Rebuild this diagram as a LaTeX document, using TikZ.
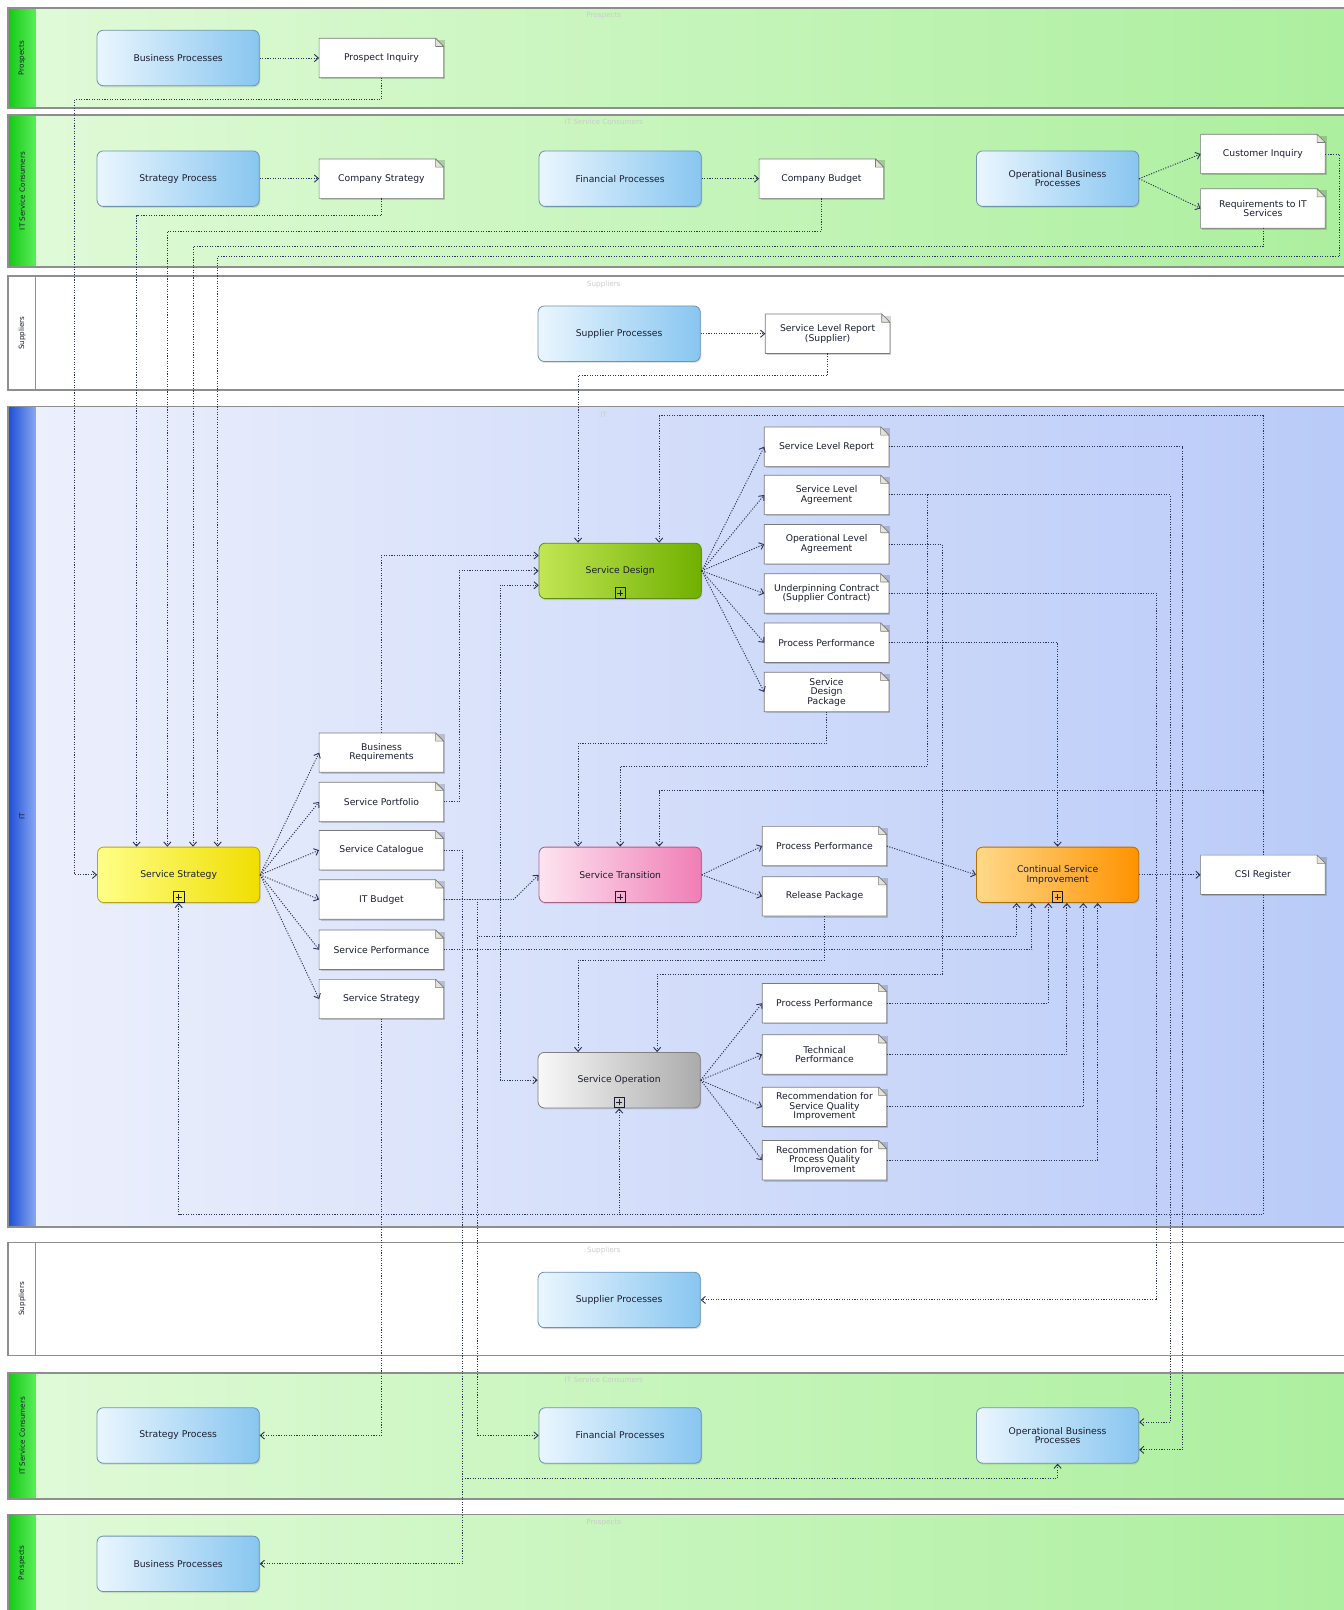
\documentclass[tikz,border=0pt]{standalone}
\usepackage{fontspec}
\setmainfont{DejaVu Sans}
\usetikzlibrary{arrows.meta,calc,shadows}
\pgfdeclarelayer{lanes}
\pgfdeclarelayer{docs}
\pgfsetlayers{lanes,docs,main}

\definecolor{flowc}{HTML}{2A3558}
\definecolor{laneline}{HTML}{8E8E8E}
\definecolor{greenA}{HTML}{E0FAD8}
\definecolor{greenB}{HTML}{ABEF9D}
\definecolor{greenbarA}{HTML}{16C816}
\definecolor{greenbarB}{HTML}{5AEE5A}
\definecolor{itA}{HTML}{EDF0FC}
\definecolor{itB}{HTML}{B8CAF8}
\definecolor{bluebarA}{HTML}{1C4FD6}
\definecolor{bluebarB}{HTML}{8AA8F2}
\definecolor{procA}{HTML}{EAF6FE}
\definecolor{procB}{HTML}{88C6F0}
\definecolor{procline}{HTML}{6F93B5}
\definecolor{docline}{HTML}{7A7A7A}
\definecolor{foldc}{HTML}{E4E4D6}
\definecolor{textc}{HTML}{1A1E30}
\definecolor{yelA}{HTML}{FFFF88}
\definecolor{yelB}{HTML}{F0DE00}
\definecolor{yelL}{HTML}{B8A51A}
\definecolor{grnA}{HTML}{C2E654}
\definecolor{grnB}{HTML}{70B000}
\definecolor{grnL}{HTML}{5F8F10}
\definecolor{pnkA}{HTML}{FDE4F0}
\definecolor{pnkB}{HTML}{F07EB6}
\definecolor{pnkL}{HTML}{B25C86}
\definecolor{gryA}{HTML}{F8F8F8}
\definecolor{gryB}{HTML}{ABABAB}
\definecolor{gryL}{HTML}{808080}
\definecolor{orgA}{HTML}{FFD98A}
\definecolor{orgB}{HTML}{FF9200}
\definecolor{orgL}{HTML}{B86E00}

\tikzset{
  flow/.style={draw=flowc, line width=0.9pt, dash pattern=on 1.1pt off 1.4pt,
    -{Straight Barb[length=4pt,width=7pt]}},
  lanebox/.style={draw=laneline, line width=1.4pt},
  lanetitle/.style={font=\fontsize{7}{8}\selectfont, text=black!20},
  lanehead/.style={font=\fontsize{7}{8}\selectfont, text=textc, rotate=90},
  proc/.style={rectangle, rounded corners=6pt, draw=procline, line width=0.8pt,
    left color=procA, right color=procB, minimum width=158pt, minimum height=54pt,
    align=center, inner sep=2pt, font=\fontsize{9}{9.3}\selectfont, text=textc,
    drop shadow={opacity=0.22, shadow xshift=1pt, shadow yshift=-1.5pt}},
  phase/.style={proc, left color=#1A, right color=#1B, draw=#1L},
  doc/.style={rectangle, minimum width=121pt, minimum height=38pt, inner sep=1pt,
    align=center, font=\fontsize{9}{9.3}\selectfont, text=textc},
}

\begin{document}
\begin{tikzpicture}[x=1pt,y=-1pt]
\useasboundingbox (0,0) rectangle (1308,1568);

% ---------- swimlanes ----------
\begin{pgfonlayer}{lanes}
\fill[white] (0,0) rectangle (1308,1568);
\foreach \ya/\yb in {8/105, 112/260, 1337/1460, 1475/1590} {
  \shade[left color=greenA, right color=greenB] (8,\ya) rectangle (1330,\yb);
  \shade[left color=greenbarA, right color=greenbarB] (8,\ya) rectangle (35,\yb);
  \draw[lanebox] (1330,\ya) -- (8,\ya) -- (8,\yb) -- (1330,\yb);
}
\foreach \ya/\yb in {269/380, 1210/1320} {
  \draw[lanebox] (1330,\ya) -- (8,\ya) -- (8,\yb) -- (1330,\yb);
  \draw[draw=laneline, line width=1pt] (35,\ya) -- (35,\yb);
}
\shade[left color=itA, right color=itB] (8,396) rectangle (1330,1195);
\shade[left color=bluebarA, right color=bluebarB] (8,396) rectangle (35,1195);
\draw[lanebox] (1330,396) -- (8,396) -- (8,1195) -- (1330,1195);

\node[lanehead] (hp1) at (21.5,56.5) {Prospects};
\node[lanehead] (hc1) at (21.5,186) {IT Service Consumers};
\node[lanehead] (hs1) at (21.5,324.5) {Suppliers};
\node[lanehead] (hit) at (21.5,795) {IT};
\node[lanehead] (hs2) at (21.5,1265) {Suppliers};
\node[lanehead] (hc2) at (21.5,1398.5) {IT Service Consumers};
\node[lanehead] (hp2) at (21.5,1522) {Prospects};

\node[lanetitle] (tp1) at (588,15) {Prospects};
\node[lanetitle] (tc1) at (588,119) {IT Service Consumers};
\node[lanetitle] (ts1) at (588,277) {Suppliers};
\node[lanetitle] (tit) at (588,404) {IT};
\node[lanetitle] (ts2) at (588,1218) {Suppliers};
\node[lanetitle] (tc2) at (588,1344) {IT Service Consumers};
\node[lanetitle] (tp2) at (588,1483) {Prospects};
\end{pgfonlayer}

% ---------- nodes ----------
\node[proc] (bp1) at (173.5,56.5) {Business Processes};
\node[doc] (pinq) at (371.5,56.5) {Prospect Inquiry};

\node[proc] (sp1) at (173.5,174) {Strategy Process};
\node[doc] (cstr) at (371.5,174) {Company Strategy};
\node[proc] (fp1) at (604,174) {Financial Processes};
\node[doc] (cbud) at (800,174) {Company Budget};
\node[proc] (obp1) at (1030,174) {Operational Business\\Processes};
\node[doc] (cinq) at (1230,150) {Customer Inquiry};
\node[doc] (rits) at (1230,203) {Requirements to IT\\Services};

\node[proc] (sup1) at (603,325) {Supplier Processes};
\node[doc] (slrs) at (806,325) {Service Level Report\\(Supplier)};

\node[phase=yel] (ss) at (174,852) {Service Strategy};
\node[doc] (breq) at (371.5,733) {Business\\Requirements};
\node[doc] (sport) at (371.5,781) {Service Portfolio};
\node[doc] (scat) at (371.5,828) {Service Catalogue};
\node[doc] (itb) at (371.5,876) {IT Budget};
\node[doc] (sperf) at (371.5,925) {Service Performance};
\node[doc] (ssdoc) at (371.5,973) {Service Strategy};

\node[phase=grn] (sd) at (604,556) {Service Design};
\node[doc] (slr) at (805,435) {Service Level Report};
\node[doc] (sla) at (805,482) {Service Level\\Agreement};
\node[doc] (ola) at (805,530) {Operational Level\\Agreement};
\node[doc] (uc) at (805,578) {Underpinning Contract\\(Supplier Contract)};
\node[doc] (ppd) at (805,626) {Process Performance};
\node[doc] (sdp) at (805,674) {Service\\Design\\Package};

\node[phase=pnk] (st) at (604,852) {Service Transition};
\node[doc] (ppt) at (803,824) {Process Performance};
\node[doc] (relp) at (803,873) {Release Package};

\node[phase=org] (csi) at (1030,852) {Continual Service\\Improvement};
\node[doc] (csir) at (1230,852) {CSI Register};

\node[phase=gry] (so) at (603,1052) {Service Operation};
\node[doc] (ppo) at (803,977) {Process Performance};
\node[doc] (tperf) at (803,1027) {Technical\\Performance};
\node[doc] (rsq) at (803,1078) {Recommendation for\\Service Quality\\Improvement};
\node[doc] (rpq) at (803,1130) {Recommendation for\\Process Quality\\Improvement};

\node[proc] (sup2) at (603,1266) {Supplier Processes};
\node[proc] (sp2) at (173.5,1398) {Strategy Process};
\node[proc] (fp2) at (604,1398) {Financial Processes};
\node[proc] (obp2) at (1030,1398) {Operational Business\\Processes};
\node[proc] (bp2) at (173.5,1523) {Business Processes};

% ---------- document outlines with folded corner ----------
\begin{pgfonlayer}{docs}
\foreach \nm in {pinq,cstr,cbud,cinq,rits,slrs,breq,sport,scat,itb,sperf,ssdoc,
                 slr,sla,ola,uc,ppd,sdp,ppt,relp,csir,ppo,tperf,rsq,rpq} {
  \fill[black, opacity=0.16] ($(\nm.south west)+(1.5pt,-1.5pt)$) rectangle ($(\nm.north east)+(1.5pt,-1.5pt)$);
  \draw[docline, line width=0.7pt, fill=white, line join=round]
    (\nm.south west) -- (\nm.north west) -- ($(\nm.north east)+(-8pt,0pt)$)
    -- ($(\nm.north east)+(0pt,-8pt)$) -- (\nm.south east) -- cycle;
  \draw[docline, line width=0.6pt, fill=foldc, line join=round]
    ($(\nm.north east)+(-8pt,0pt)$) -- ($(\nm.north east)+(-8pt,-8pt)$)
    -- ($(\nm.north east)+(0pt,-8pt)$) -- cycle;
}
\end{pgfonlayer}

% ---------- sub-process markers ----------
\foreach \nm in {ss,sd,st,so,csi} {
  \draw[textc, line width=0.5pt] ($(\nm.south)+(-5pt,1pt)$) rectangle ($(\nm.south)+(5pt,11pt)$);
  \draw[textc, line width=0.5pt] ($(\nm.south)+(-3pt,6pt)$) -- ($(\nm.south)+(3pt,6pt)$)
    ($(\nm.south)+(0pt,3pt)$) -- ($(\nm.south)+(0pt,9pt)$);
}

% ---------- prospects and consumers feed the strategy ----------
\draw[flow] (bp1.east) -- (pinq.west);
\draw[flow] (pinq.south) |- (73,97) |- (ss.west);
\draw[flow] (sp1.east) -- (cstr.west);
\draw[flow] (cstr.south) |- (133,210) -- ($(ss.north)+(-41,0)$);
\draw[flow] (fp1.east) -- (cbud.west);
\draw[flow] (cbud.south) |- (163,225) -- ($(ss.north)+(-11,0)$);
\draw[flow] (obp1.east) -- (cinq.west);
\draw[flow] (obp1.east) -- (rits.west);
\draw[flow] (rits.south) |- (188,240) -- ($(ss.north)+(14,0)$);
\draw[flow] (cinq.east) -- ++(14,0) |- (212,250) -- ($(ss.north)+(38,0)$);
\draw[flow] (sup1.east) -- (slrs.west);
\draw[flow] (slrs.south) |- (563,366) -- ($(sd.north)+(-41,0)$);

% ---------- service strategy outputs ----------
\foreach \tg in {breq,sport,scat,itb,sperf,ssdoc} \draw[flow] (ss.east) -- (\tg.west);
\draw[flow] (breq.north) |- ($(sd.west)+(0,-15)$);
\draw[flow] (sport.east) -- ++(15,0) |- (sd.west);
\draw[flow] (itb.east) -- ++(55,0) |- ($(sd.west)+(0,14)$);
\draw[flow] (itb.east) -- ++(68,0) -- (st.west);
\draw[flow] (itb.east) -- ++(55,0) |- (so.west);
\draw[flow] (itb.east) -- ++(33,0) |- (990,912) -- ($(csi.south)+(-40,0)$);
\draw[flow] (itb.east) -- ++(33,0) |- (fp2.west);
\draw[flow] (scat.east) -- ++(18,0) |- (bp2.east);
\draw[flow] (scat.east) -- ++(18,0) |- (1030,1440) -- (obp2.south);
\draw[flow] (sperf.east) -| ($(csi.south)+(-25,0)$);
\draw[flow] (ssdoc.south) |- (sp2.east);

% ---------- service design outputs ----------
\foreach \tg in {slr,sla,ola,uc,ppd,sdp} \draw[flow] (sd.east) -- (\tg.west);
\draw[flow] (slr.east) -- ++(286,0) |- ($(obp2.east)+(0,14)$);
\draw[flow] (sla.east) -- ++(274,0) |- ($(obp2.east)+(0,-13)$);
\draw[flow] (sla.east) -- ++(38,0) |- (604,746) -- (st.north);
\draw[flow] (ola.east) -- ++(52,0) |- (640,949) -- ($(so.north)+(37,0)$);
\draw[flow] (uc.east) -- ++(261,0) |- (sup2.east);
\draw[flow] (ppd.east) -| (csi.north);
\draw[flow] (sdp.south) |- (563,724) -- ($(st.north)+(-41,0)$);

% ---------- service transition outputs ----------
\draw[flow] (st.east) -- (ppt.west);
\draw[flow] (st.east) -- (relp.west);
\draw[flow] (ppt.east) -- (csi.west);
\draw[flow] (relp.south) |- (563,935) -- ($(so.north)+(-40,0)$);

% ---------- continual improvement ----------
\draw[flow] (csi.east) -- (csir.west);
\draw[flow] (csir.north) |- (642,405) -- ($(sd.north)+(38,0)$);
\draw[flow] (csir.north) |- (642,770) -- ($(st.north)+(38,0)$);
\draw[flow] (csir.south) |- (603,1183) -- (so.south);
\draw[flow] (csir.south) |- (174,1183) -- (ss.south);

% ---------- service operation outputs ----------
\foreach \tg in {ppo,tperf,rsq,rpq} \draw[flow] (so.east) -- (\tg.west);
\draw[flow] (ppo.east) -| ($(csi.south)+(-9,0)$);
\draw[flow] (tperf.east) -| ($(csi.south)+(9,0)$);
\draw[flow] (rsq.east) -| ($(csi.south)+(25,0)$);
\draw[flow] (rpq.east) -| ($(csi.south)+(39,0)$);
\end{tikzpicture}
\end{document}
